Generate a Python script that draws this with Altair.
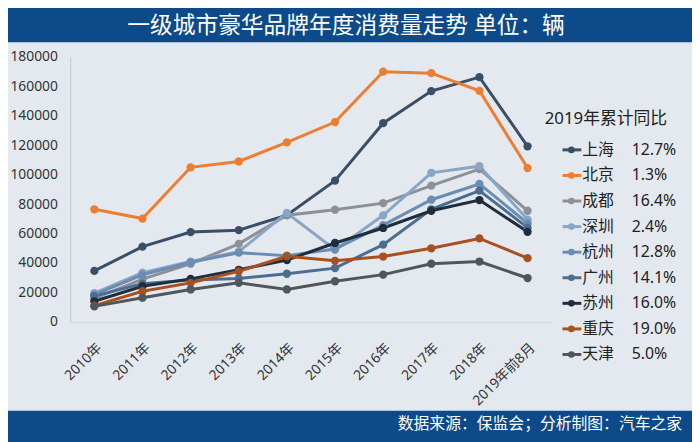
import altair as alt
import pandas as pd

years = ["2010年", "2011年", "2012年", "2013年", "2014年", "2015年",
         "2016年", "2017年", "2018年", "2019年前8月"]
cities = ["上海", "北京", "成都", "深圳", "杭州", "广州", "苏州", "重庆", "天津"]
pcts = ["12.7%", "1.3%", "16.4%", "2.4%", "12.8%", "14.1%", "16.0%", "19.0%", "5.0%"]

shanghai = [34600, 51100, 61000, 62300, 72500, 96000, 135000, 156800, 166300, 119300]
beijing = [76500, 70200, 105000, 109000, 122000, 135800, 170000, 169000, 157000, 104500]
chengdu = [16000, 29000, 39500, 53000, 72500, 76200, 80700, 92600, 103800, 75500]
shenzhen = [19500, 33500, 41000, 47700, 74000, 49000, 72400, 101300, 105800, 69500]
hangzhou = [18500, 32000, 40500, 47000, 45000, 49500, 65700, 83000, 93700, 67000]
guangzhou = [17500, 26000, 28500, 29500, 32700, 36500, 52500, 76500, 89200, 64000]
suzhou = [14000, 24200, 29200, 35400, 42000, 53600, 63800, 75500, 82800, 61200]
chongqing = [11000, 20800, 26500, 34300, 44600, 41500, 44400, 50000, 56700, 43300]
tianjin = [10500, 16400, 22000, 26500, 22000, 27600, 32100, 39500, 41000, 29800]

series = [shanghai, beijing, chengdu, shenzhen, hangzhou, guangzhou, suzhou, chongqing, tianjin]
colors = ["#3a4f66", "#ed7d31", "#8d9096", "#8aa6c6", "#6a8db3",
          "#4b6d8f", "#1f2d3d", "#a9501f", "#50565c"]

title_text = ["一级城市豪华品牌年度消费量走势  单位：辆"]
source_text = ["数据来源：保监会；分析制图：汽车之家"]
legend_title = ["2019年累计同比"]

FONT = "Noto Sans, Noto Sans CJK SC"
BG = "#e4e9f0"
BAR = "#0d4a8a"

rows = []
for ci, (c, vals) in enumerate(zip(cities, series)):
    for yi, (yr, v) in enumerate(zip(years, vals)):
        rows.append({"city": c, "year": yr, "value": v, "order": ci})
df = pd.DataFrame(rows)

color_scale = alt.Scale(domain=cities, range=colors)

base = alt.Chart(df).encode(
    x=alt.X("year:N", sort=years, title=None,
            scale=alt.Scale(type="point", padding=0.5),
            axis=alt.Axis(labelAngle=-45, labelFontSize=14, labelColor="#333333",
                          labelFont=FONT, ticks=False, domainColor="#d3d9e1",
                          labelPadding=19)),
    y=alt.Y("value:Q", title=None,
            scale=alt.Scale(domain=[0, 180000]),
            axis=alt.Axis(values=list(range(0, 180001, 20000)), grid=False,
                          ticks=False, labelPadding=13, labelFontSize=14,
                          labelColor="#333333", labelFont=FONT,
                          domainColor="#c4cad2", format="d")),
    color=alt.Color("city:N", sort=cities, scale=color_scale, legend=None),
    detail="city:N",
)
lines = base.mark_line(strokeWidth=3)
points = base.mark_circle(size=70, opacity=1)
main = alt.layer(lines, points)

leg_df = pd.DataFrame({"city": cities, "pct": pcts})
leg_base = alt.Chart(leg_df).encode(
    y=alt.Y("city:N", sort=cities, axis=None,
            scale=alt.Scale(type="point", range=[94, 301], padding=0)),
    color=alt.Color("city:N", sort=cities, scale=color_scale, legend=None),
)
leg_rule = leg_base.mark_rule(strokeWidth=3).encode(x=alt.value(498), x2=alt.value(517))
leg_dot = leg_base.mark_circle(size=45, opacity=1).encode(x=alt.value(507))
leg_name = leg_base.mark_text(align="left", baseline="middle", fontSize=16, font=FONT).encode(
    x=alt.value(518), text="city:N", color=alt.value("#222222"))
leg_pct = leg_base.mark_text(align="left", baseline="middle", fontSize=16, font=FONT).encode(
    x=alt.value(568), text="pct:N", color=alt.value("#222222"))
legend = alt.layer(leg_rule, leg_dot, leg_name, leg_pct)

leg_title = alt.Chart(pd.DataFrame({"t": legend_title})).mark_text(
    align="left", baseline="middle", fontSize=17, font=FONT, color="#222222"
).encode(x=alt.value(480), y=alt.value(63), text="t:N")

top_df = pd.DataFrame({"t": title_text})
top_bar = alt.Chart(top_df).mark_rect(color=BAR).encode(
    x=alt.value(-71), x2=alt.value(640), y=alt.value(-60), y2=alt.value(-15))
top_txt = alt.Chart(top_df).mark_text(
    align="center", baseline="middle", fontSize=23, font=FONT, color="white"
).encode(x=alt.value(279), y=alt.value(-31), text="t:N")

bot_df = pd.DataFrame({"t": source_text})
bot_bar = alt.Chart(bot_df).mark_rect(color=BAR).encode(
    x=alt.value(-71), x2=alt.value(640), y=alt.value(358), y2=alt.value(400))
bot_txt = alt.Chart(bot_df).mark_text(
    align="right", baseline="middle", fontSize=16, font=FONT, color="white"
).encode(x=alt.value(619), y=alt.value(371), text="t:N")

chart = alt.layer(
    top_bar, top_txt, bot_bar, bot_txt, main, legend, leg_title
).resolve_scale(y="independent").properties(
    width=487, height=268,
    autosize=alt.AutoSizeParams(type="none"),
    padding={"left": 63, "top": 47, "right": 142, "bottom": 119},
    background=BG,
).configure_view(stroke=None)

chart.save("out.html", embed_options={"renderer": "svg", "actions": False})
